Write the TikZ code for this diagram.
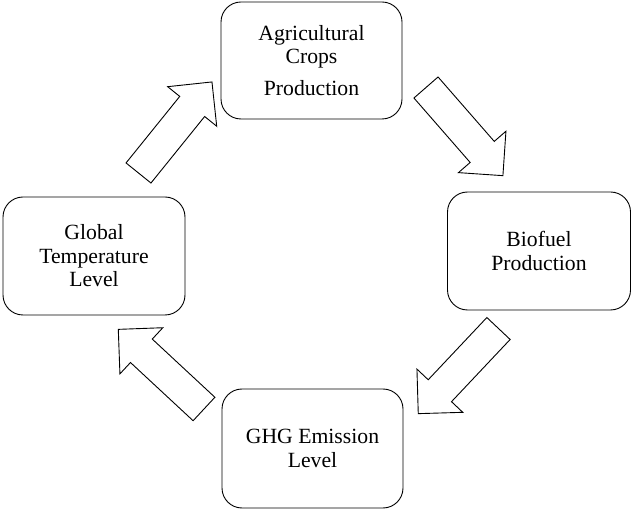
\documentclass[tikz,border=0pt]{standalone}
\usepackage{fontspec}
\setmainfont{Liberation Serif}
\tikzset{
  box/.style={draw, line width=0.9pt, rounded corners=20pt, align=center, font=\fontsize{21.7}{23.5}\selectfont, inner sep=0pt},
  arrowline/.style={draw, line width=0.9pt, fill=white, line join=miter}
}
\newcommand\bigarrow[3]{\draw[arrowline, shift={(#1,#2)}, rotate=#3]
  (0,-16) -- (85.5,-16) -- (85.5,-31.5) -- (117,0) -- (85.5,31.5) -- (85.5,16) -- (0,16) -- cycle;}
\begin{document}
\begin{tikzpicture}[x=1pt,y=1pt]
\useasboundingbox (0,0) rectangle (632,-510);
\node[box, minimum width=181pt, minimum height=117pt] (agri) at (311.5,-60.5) {Agricultural\\Crops\\[8pt]Production};
\node[box, minimum width=183pt, minimum height=118pt] (bio) at (539,-251) {Biofuel\\Production};
\node[box, minimum width=181pt, minimum height=119pt] (ghg) at (312.5,-448.5) {GHG Emission\\Level};
\node[box, minimum width=182pt, minimum height=118pt] (temp) at (94,-256) {Global\\Temperature\\Level};
\bigarrow{426}{-87.5}{-48.9}
\bigarrow{498.5}{-328.5}{-133.3}
\bigarrow{204}{-409}{137.1}
\bigarrow{138.5}{-173}{51.1}
\end{tikzpicture}
\end{document}
